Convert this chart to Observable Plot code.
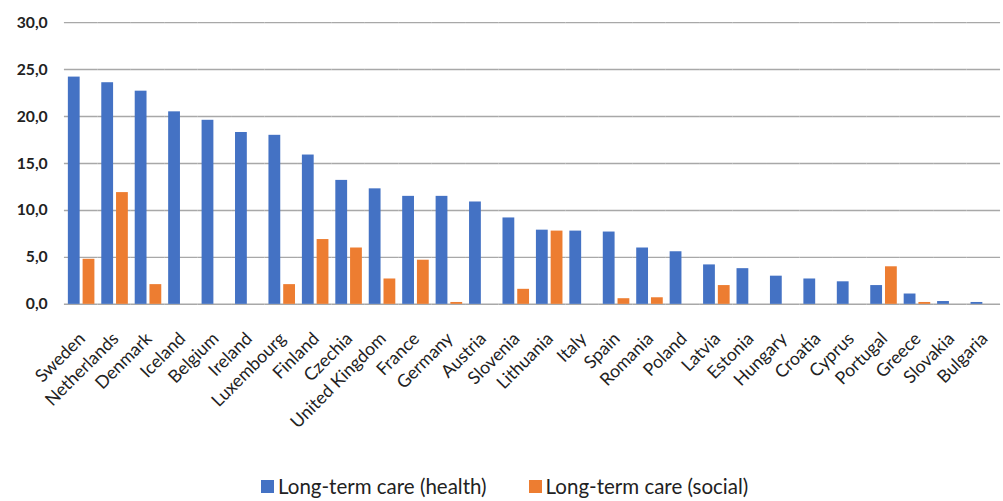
<!DOCTYPE html>
<html>
<head>
<meta charset="utf-8">
<script src="https://cdn.jsdelivr.net/npm/d3@7"></script>
<script src="https://cdn.jsdelivr.net/npm/@observablehq/plot@0.6"></script>
<style>
  html, body { margin: 0; padding: 0; background: #fff; overflow: hidden; width: 1003px; }
  #chart svg { display: block; }
  #legend { display: flex; align-items: center; font-family: Lato, sans-serif; font-size: 20.5px; color: #222; padding-left: 261px; padding-top: 6px; line-height: 24px; white-space: nowrap; }
  #legend .item { display: flex; align-items: center; }
  #legend .item + .item { margin-left: 42px; }
  #legend .swatch { width: 13px; height: 13px; margin-right: 4px; }
</style>
</head>
<body>
<div id="chart"></div>
<div id="legend"></div>
<script>
// Countries, ordered by long-term care (health) value
const countries = ["Sweden", "Netherlands", "Denmark", "Iceland", "Belgium", "Ireland", "Luxembourg",
  "Finland", "Czechia", "United Kingdom", "France", "Germany", "Austria", "Slovenia", "Lithuania",
  "Italy", "Spain", "Romania", "Poland", "Latvia", "Estonia", "Hungary", "Croatia", "Cyprus",
  "Portugal", "Greece", "Slovakia", "Bulgaria"];

const health = [24.2, 23.6, 22.7, 20.5, 19.6, 18.3, 18.0, 15.9, 13.2, 12.3, 11.5, 11.5, 10.9, 9.2,
  7.9, 7.8, 7.7, 6.0, 5.6, 4.2, 3.8, 3.0, 2.7, 2.4, 2.0, 1.1, 0.3, 0.2];

const social = [4.8, 11.9, 2.1, 0, 0, 0, 2.1, 6.9, 6.0, 2.7, 4.7, 0.2, 0, 1.6,
  7.8, 0, 0.6, 0.7, 0, 2.0, 0, 0, 0, 0, 4.0, 0.2, 0, 0];

const seriesNames = ["Long-term care (health)", "Long-term care (social)"];
const seriesColors = ["#4472C4", "#ED7D31"];
const yTicks = [0, 5, 10, 15, 20, 25, 30];

// Long-format table for the grouped bars
const rows = countries.flatMap((c, i) => [
  {country: c, series: seriesNames[0], value: health[i]},
  {country: c, series: seriesNames[1], value: social[i]}
]);

const fmt = d => d.toFixed(1).replace(".", ",");

const chart = Plot.plot({
  width: 1020,
  height: 476,
  marginLeft: 65,
  marginRight: 3,
  marginTop: 22.5,
  marginBottom: 167,
  style: {fontFamily: "Lato, sans-serif", background: "#fff"},
  fx: {domain: countries, padding: 0, label: null, axis: null},
  x: {domain: seriesNames, paddingInner: 0.22, paddingOuter: 0.24, axis: null},
  y: {domain: [0, 30], label: null},
  color: {domain: seriesNames, range: seriesColors},
  marks: [
    Plot.gridY(yTicks, {stroke: "#a8a8a8", strokeOpacity: 1, strokeWidth: 1.5}),
    Plot.barY(rows, {fx: "country", x: "series", y: "value", fill: "series"}),
    Plot.axisY(yTicks, {tickFormat: fmt, tickSize: 0, tickPadding: 17, fontSize: 16, fontWeight: "bold", fill: "#222", label: null}),
    Plot.axisFx({anchor: "bottom", tickRotate: -45, tickSize: 0, tickPadding: 32, dx: 1, fontSize: 18, fill: "#222", label: null})
  ]
});
document.getElementById("chart").appendChild(chart);

// Legend below the chart
const legend = document.getElementById("legend");
seriesNames.forEach((name, i) => {
  const item = document.createElement("div");
  item.className = "item";
  const sw = document.createElement("span");
  sw.className = "swatch";
  sw.style.background = seriesColors[i];
  const label = document.createElement("span");
  label.textContent = name;
  item.appendChild(sw);
  item.appendChild(label);
  legend.appendChild(item);
});
</script>
</body>
</html>
